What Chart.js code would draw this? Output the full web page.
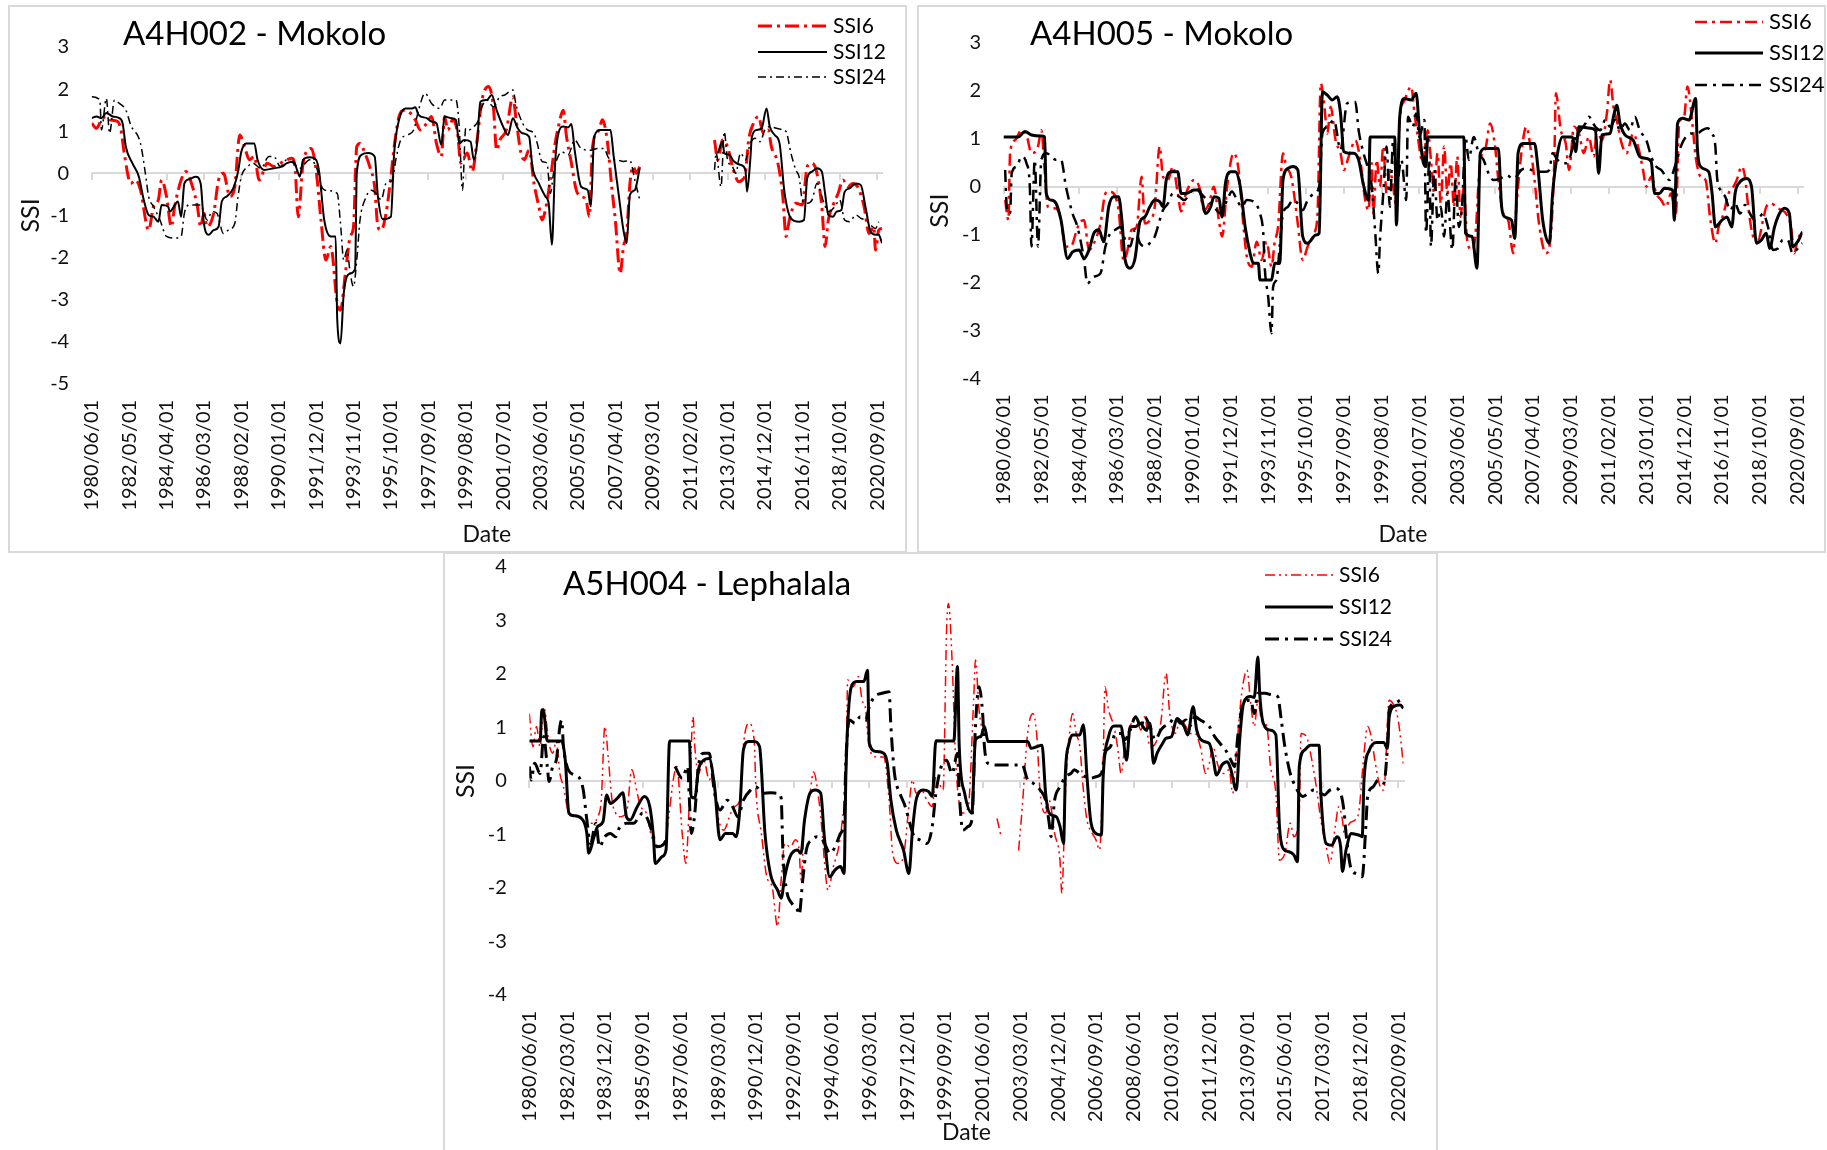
<!DOCTYPE html>
<html lang="pt-BR">
<head>
<meta charset="utf-8">
<title>SSI - Mokolo e Lephalala</title>
<script src="https://cdn.jsdelivr.net/npm/chart.js@4.4.1/dist/chart.umd.min.js"></script>
<style>
    html, body { margin: 0; padding: 0; background: #fff; }
    body { width: 1827px; height: 1150px; position: relative; overflow: hidden; }
    .painel { position: absolute; box-sizing: border-box; border: 2px solid #d9d9d9; background: #fff; }
    .painel canvas { position: absolute; left: 0; top: 0; }
    #painel-a4h002 { left: 8px; top: 5px; width: 899px; height: 548px; }
    #painel-a4h005 { left: 917px; top: 5px; width: 909px; height: 548px; }
    #painel-a5h004 { left: 443px; top: 552px; width: 995px; height: 600px; }
</style>
</head>
<body>
<div class="painel" id="painel-a4h002"><canvas id="chart-a4h002" width="895" height="544"></canvas></div>
<div class="painel" id="painel-a4h005"><canvas id="chart-a4h005" width="905" height="544"></canvas></div>
<div class="painel" id="painel-a5h004"><canvas id="chart-a5h004" width="991" height="596"></canvas></div>

<script>
/**
 * Índice de vazão padronizado (SSI 6, 12 e 24 meses)
 * Estações A4H002 e A4H005 (Mokolo) e A5H004 (Lephalala)
 * Dados mensais: [mês desde 1980/06, valor]; null quebra a linha
 */

const ROTULOS_23M = [
    '1980/06/01', '1982/05/01', '1984/04/01', '1986/03/01', '1988/02/01', '1990/01/01',
    '1991/12/01', '1993/11/01', '1995/10/01', '1997/09/01', '1999/08/01', '2001/07/01',
    '2003/06/01', '2005/05/01', '2007/04/01', '2009/03/01', '2011/02/01', '2013/01/01',
    '2014/12/01', '2016/11/01', '2018/10/01', '2020/09/01'
];

const ROTULOS_21M = [
    '1980/06/01', '1982/03/01', '1983/12/01', '1985/09/01', '1987/06/01', '1989/03/01',
    '1990/12/01', '1992/09/01', '1994/06/01', '1996/03/01', '1997/12/01', '1999/09/01',
    '2001/06/01', '2003/03/01', '2004/12/01', '2006/09/01', '2008/06/01', '2010/03/01',
    '2011/12/01', '2013/09/01', '2015/06/01', '2017/03/01', '2018/12/01', '2020/09/01'
];

const SERIES = ['SSI6', 'SSI12', 'SSI24'];

// A4H002 - Mokolo
const a4h002Ssi6 = [[0,1.19],[3,1.07],[6,1.27],[9,1.35],[11,1.27],[16,1.23],[18,1.03],[20,0.48],[24,-0.24],[27,-0.16],[30,-0.4],[35,-1.35],[38,-0.79],[41,-0.63],[43,-0.16],[46,-0.55],[49,-1.27],[51,-0.79],[55,-0.16],[58,0.04],[62,-0.32],[65,-0.79],[67,-1.27],[69,-0.95],[71,-1.27],[75,-0.95],[78,-0.16],[81,0],[85,-0.55],[88,-0.32],[91,0.91],[94,0.63],[97,0.32],[100,0.4],[103,-0.16],[108,0.24],[112,0.16],[116,0.24],[120,0.32],[123,0.36],[125,0.16],[127,-1.03],[130,0.24],[135,0.59],[138,0.08],[141,-1.11],[144,-2.06],[147,-1.74],[151,-3.09],[153,-3.25],[156,-2.38],[159,-1.5],[161,-1.27],[163,0.63],[165,0.71],[168,0.48],[171,0.16],[174,-0.32],[176,-1.27],[178,-1.35],[181,-0.95],[184,-0.08],[186,0.63],[189,1.35],[192,1.5],[196,1.43],[199,1.27],[202,1.03],[206,1.19],[209,1.35],[212,0.71],[215,0.4],[217,1.35],[219,1.03],[222,1.27],[225,0.95],[227,0.24],[231,0.48],[234,0.04],[237,0.79],[240,1.74],[244,2.06],[247,1.58],[249,0.55],[251,0.79],[255,1.03],[259,1.82],[261,1.27],[264,0.48],[266,0.32],[269,0.55],[272,-0.24],[275,-0.79],[277,-1.11],[279,-0.87],[282,-0.16],[285,0.71],[287,1.11],[290,1.5],[292,0.87],[295,0.24],[298,-0.4],[301,-0.55],[304,-0.63],[306,-1.03],[308,0.63],[312,1.03],[314,1.27],[317,0.79],[320,-0.4],[322,-1.11],[325,-2.38],[327,-1.74],[329,-1.42],[331,-0.24],[333,0.16],[335,0],[337,0.16],[338,null],[383,0.79],[385,0.32],[388,0.79],[391,0.63],[394,0.16],[398,-0.2],[400,-0.16],[402,0],[404,0.79],[407,1.19],[410,1.35],[413,0.95],[416,1.03],[418,0.63],[422,0.24],[425,-0.55],[427,-1.5],[429,-1.11],[433,-0.71],[437,-0.75],[440,0.16],[443,0.24],[446,0],[449,-0.79],[451,-1.74],[453,-1.11],[456,-0.75],[459,-0.48],[462,-0.16],[465,-0.32],[468,-0.24],[471,-0.32],[475,-0.79],[478,-1.43],[481,-1.27],[482,-1.82],[484,-1.35],[486,-1.31]];
const a4h002Ssi12 = [[0,1.31],[3,1.35],[6,1.31],[9,1.43],[13,1.35],[17,1.31],[19,1.19],[21,0.63],[25,0.24],[29,-0.08],[32,-0.63],[35,-0.99],[38,-1.03],[41,-1.15],[43,-0.75],[47,-0.79],[48,-0.91],[53,-0.67],[55,-1.03],[57,-0.24],[60,-0.14],[64,-0.08],[67,-0.24],[69,-1.19],[72,-1.46],[75,-1.35],[78,-1.27],[80,-0.67],[83,-0.55],[87,-0.36],[90,0.04],[92,0.51],[95,0.71],[100,0.71],[102,0.32],[106,0.08],[112,0.12],[117,0.16],[120,0.24],[124,0.28],[127,0],[128,-0.08],[130,0.32],[134,0.38],[138,0.32],[140,0],[143,-1.11],[147,-1.5],[150,-1.5],[151,-3.48],[153,-4.04],[155,-2.85],[159,-2.38],[162,-2.26],[163,0],[166,0.44],[170,0.48],[174,0.4],[176,-0.55],[179,-1.09],[184,-1.03],[186,0.48],[189,1.27],[193,1.54],[197,1.54],[199,1.57],[201,1.39],[206,1.31],[209,1.23],[212,1.19],[215,0.67],[217,1.35],[221,1.31],[224,1.27],[226,0.71],[229,0.79],[233,0.75],[235,0.32],[237,0.71],[239,1.7],[243,1.74],[246,1.86],[249,1.5],[253,1.11],[256,0.91],[259,1.31],[262,1.07],[265,0.95],[269,0.87],[271,0.16],[275,-0.24],[279,-0.55],[281,-0.71],[283,-1.7],[285,0.24],[287,0.95],[290,1.11],[293,1.09],[295,1.17],[297,0.55],[301,-0.32],[305,-0.4],[307,-0.79],[309,0.87],[313,1.03],[319,1.03],[321,0.4],[324,-0.48],[327,-1.35],[329,-1.66],[331,-0.51],[334,-0.4],[337,0.12],[338,null],[385,0.48],[388,0.75],[389,0.48],[392,0.44],[395,0.28],[399,0.2],[402,0.08],[403,-0.44],[405,0.32],[406,0.87],[409,1.03],[412,1.07],[415,1.54],[417,1.11],[420,0.91],[423,0.71],[426,-0.44],[430,-1.07],[435,-1.15],[438,-1.11],[440,-0.12],[443,0.04],[446,0.12],[449,0.04],[451,-0.48],[453,-0.99],[456,-1.03],[458,-0.91],[461,-0.87],[463,-0.44],[466,-0.36],[470,-0.24],[473,-0.28],[476,-0.83],[479,-1.39],[482,-1.46],[484,-1.46],[486,-1.66]];
const a4h002Ssi24 = [[0,1.82],[5,1.74],[6,1.03],[9,1.78],[11,0.95],[14,1.74],[17,1.66],[21,1.5],[24,1.15],[30,0.71],[33,0],[35,-0.55],[38,-0.79],[42,-1.11],[46,-1.5],[51,-1.54],[55,-1.5],[57,-0.95],[60,-0.75],[64,-0.75],[67,-0.75],[71,-1.11],[74,-0.91],[77,-0.95],[81,-1.43],[84,-1.35],[88,-1.19],[90,-0.55],[92,-0.08],[96,0.16],[99,0.24],[104,0.12],[109,0.4],[112,0.4],[116,0.16],[120,0.32],[124,0.24],[128,0.12],[134,0.32],[138,0.16],[142,-0.36],[145,-0.41],[151,-0.48],[153,-1.19],[155,-2.06],[157,-1.82],[159,-2.38],[161,-2.69],[163,-2.06],[165,-1.11],[168,-0.63],[172,-0.4],[175,-0.48],[178,-0.63],[181,-0.24],[185,-0.16],[187,0.32],[190,0.79],[194,0.91],[198,1.03],[201,1.5],[205,1.9],[209,1.66],[214,1.54],[217,1.74],[224,1.74],[226,1.11],[228,-0.4],[230,1.07],[232,1.03],[235,1.11],[238,1.27],[240,1.58],[243,1.74],[247,1.58],[251,1.82],[254,1.86],[259,1.98],[261,1.62],[265,1.19],[268,1.03],[272,0.95],[274,0.71],[277,0.28],[280,0.24],[282,-0.48],[284,0],[286,0.32],[289,0.51],[293,0.44],[297,0.79],[301,0.59],[307,0.55],[311,0.59],[315,0.59],[318,0.36],[323,0.32],[327,0.28],[331,0.3],[334,-0.16],[337,-0.63],[338,null],[383,0.08],[384,0.48],[387,-0.32],[389,0.99],[391,0.32],[394,0.16],[396,0],[399,0.48],[402,0.32],[405,0.71],[408,0.83],[411,0.75],[414,1.03],[417,1.11],[421,1.07],[425,1.03],[427,0.99],[430,0.48],[433,0.08],[435,-0.08],[437,-0.63],[440,-0.71],[443,-0.63],[446,-0.24],[450,-0.67],[453,-0.91],[457,-0.79],[460,-0.63],[463,-1.11],[466,-1.15],[470,-0.99],[473,-1.07],[476,-1.11],[479,-1.23],[482,-1.31],[484,-1.15]];

// A4H005 - Mokolo
const a4h005Ssi6 = [[1,-0.28],[3,-0.7],[4,0.7],[7,0.97],[11,1.18],[14,1.08],[17,0.7],[21,0.84],[23,1.18],[25,0.35],[27,-0.42],[31,-0.45],[34,-0.56],[38,-1.25],[41,-1.25],[44,-0.97],[46,-0.77],[49,-0.7],[52,-1.32],[55,-1.18],[59,-0.77],[62,-0.14],[64,-0.1],[67,-0.14],[70,-0.49],[73,-1.53],[75,-1.39],[78,-0.9],[81,-0.84],[84,0.21],[86,-0.77],[89,-0.7],[92,-0.42],[95,0.84],[97,0.21],[100,0.14],[103,0.42],[106,-0.14],[108,-0.52],[111,-0.14],[116,0.14],[119,0],[122,-0.49],[125,-0.35],[128,0],[131,-0.7],[133,-1.04],[136,0],[140,0.7],[143,0.35],[146,-0.84],[148,-1.46],[151,-1.67],[154,-1.15],[157,-1.53],[160,-1.15],[163,-1.67],[165,-1.15],[167,-0.84],[170,0.7],[172,0.42],[175,0.21],[179,-0.77],[181,-1.39],[182,-1.53],[185,-1.25],[189,-0.97],[191,-0.56],[193,2.16],[195,1.74],[197,1.11],[199,1.67],[202,0.97],[205,0.7],[207,0.35],[210,0.63],[214,0.97],[217,0.56],[220,-0.28],[222,-0.49],[224,0.49],[225,-0.56],[227,0.56],[229,0],[231,0.84],[233,-0.14],[235,0.35],[237,0],[239,-0.42],[241,1.39],[244,1.81],[248,2.09],[250,1.53],[252,1.04],[255,0.49],[258,1.18],[260,0.56],[262,-0.14],[264,0.7],[266,-0.35],[268,0.84],[270,-0.14],[272,0.49],[274,-0.42],[276,0.63],[278,-0.63],[280,0],[282,-1.11],[285,-1.32],[287,-1.04],[290,0.56],[293,0.77],[296,1.32],[299,0.84],[301,0.14],[304,-0.56],[307,-0.7],[310,-1.39],[312,-0.42],[315,0.7],[318,1.25],[321,0.7],[323,0.14],[326,-0.84],[330,-1.39],[333,-0.97],[335,0.49],[336,1.95],[339,1.18],[342,0.9],[344,0.35],[347,1.25],[350,1.11],[353,0.7],[356,1.04],[359,0.63],[361,1.18],[364,0.97],[367,1.53],[369,2.23],[371,1.67],[373,1.39],[376,0.9],[379,0.7],[383,1.11],[386,0.84],[389,0.35],[391,0],[394,0.21],[397,-0.14],[400,-0.28],[403,-0.42],[406,-0.14],[409,-0.56],[411,1.32],[414,1.46],[416,2.09],[419,1.32],[421,0.63],[424,0.21],[427,0.14],[430,-0.7],[433,-1.18],[435,-0.84],[438,-0.56],[441,-0.14],[444,0],[446,0.14],[449,0.42],[451,0.21],[453,-0.42],[456,-1.04],[459,-1.11],[462,-0.7],[464,-0.42],[467,-0.35],[470,-0.42],[473,-0.49],[476,-0.56],[479,-0.84],[481,-1.39],[483,-1.11],[485,-0.97]];
const a4h005Ssi12 = [[0,1.04],[9,1.04],[13,1.15],[17,1.08],[23,1.06],[25,1.04],[26,-0.14],[29,-0.28],[32,-0.35],[35,-0.7],[39,-1.5],[42,-1.36],[46,-1.32],[49,-1.5],[52,-1.32],[55,-0.97],[58,-0.9],[61,-1.15],[64,-0.42],[67,-0.21],[70,-0.21],[72,-0.7],[74,-1.53],[77,-1.7],[80,-1.5],[83,-0.73],[86,-0.63],[89,-0.42],[92,-0.28],[95,-0.31],[97,-0.42],[99,0.14],[102,0.31],[106,0.31],[108,-0.14],[111,-0.14],[116,-0.07],[119,-0.07],[123,-0.56],[126,-0.42],[128,-0.21],[131,-0.24],[133,-0.63],[135,0.07],[138,0.31],[141,0.31],[144,0],[147,-0.84],[150,-1.39],[152,-1.6],[155,-1.6],[156,-1.95],[163,-1.95],[165,-1.6],[168,-1.6],[170,0.14],[173,0.38],[176,0.42],[179,0.35],[182,-1.04],[185,-1.18],[190,-1.01],[192,-0.97],[194,1.98],[197,1.91],[200,1.81],[203,1.88],[205,1.53],[207,0.73],[210,0.7],[213,0.7],[216,0.56],[219,0.03],[222,-0.28],[223,1.04],[238,1.04],[239,-0.8],[241,1.46],[244,1.84],[248,1.81],[251,1.95],[253,1.18],[255,0.56],[257,0.42],[258,1.04],[280,1.04],[281,-0.97],[285,-1.04],[288,-1.7],[290,0.7],[293,0.8],[301,0.8],[303,-0.42],[305,-0.63],[309,-0.7],[311,-1.08],[313,0.7],[316,0.9],[323,0.9],[325,0.42],[328,-0.7],[332,-1.18],[334,-0.14],[337,0.7],[340,1.04],[346,1.04],[348,0.73],[350,1.25],[357,1.22],[360,1.18],[362,0.28],[364,1.08],[369,1.11],[371,1.46],[373,1.7],[375,1.32],[378,1.08],[383,0.97],[387,0.63],[391,0.59],[394,0.52],[396,-0.14],[399,-0.14],[402,-0.03],[407,-0.07],[408,-0.7],[410,1.32],[413,1.43],[417,1.39],[421,1.84],[422,0.84],[424,0.42],[429,0.31],[431,-0.14],[433,-0.84],[437,-0.7],[440,-0.63],[443,-0.84],[445,-0.14],[448,0.1],[452,0.17],[455,0],[458,-1.18],[461,-1.11],[464,-0.97],[466,-1.29],[469,-0.84],[472,-0.56],[475,-0.45],[478,-0.56],[480,-1.25],[483,-1.15],[486,-0.94]];
const a4h005Ssi24 = [[1,0.35],[2,-0.42],[4,-0.56],[5,0.28],[8,0.42],[11,0.63],[14,0.49],[16,0],[17,-1.25],[19,0.56],[21,-1.25],[23,0.56],[26,0.7],[32,0.56],[35,0.56],[38,0],[42,-0.56],[45,-0.84],[49,-1.53],[51,-2.02],[55,-1.88],[59,-1.81],[62,-1.25],[65,-0.97],[68,-0.9],[71,-0.84],[74,-1.11],[77,-1.25],[80,-0.9],[83,-1.18],[86,-1.25],[89,-1.18],[92,-1.04],[95,-0.7],[97,-0.49],[100,-0.35],[103,-0.14],[107,-0.21],[110,-0.28],[114,-0.1],[117,-0.03],[120,-0.14],[124,-0.28],[128,-0.42],[132,-0.56],[136,-0.28],[139,-0.1],[142,-0.28],[145,-0.42],[148,-0.28],[152,-0.31],[156,-0.56],[158,-0.97],[159,-1.74],[161,-2.3],[163,-3.06],[164,-2.09],[166,-1.95],[168,-1.25],[170,-0.56],[173,-0.42],[176,-0.28],[179,-0.35],[182,-0.49],[185,-0.28],[189,-0.14],[192,0],[194,1.11],[197,1.25],[201,1.39],[205,0.77],[209,1.74],[214,1.77],[216,1.18],[219,0.7],[222,0.35],[224,0],[226,-0.9],[228,-1.81],[229,-1.11],[231,-0.14],[233,0.84],[235,-0.42],[237,0.97],[239,0],[242,0.56],[245,-0.28],[246,1.46],[249,1.25],[251,1.53],[253,1.04],[256,1.39],[257,-0.97],[259,0.56],[260,-1.25],[262,0.35],[264,-0.7],[266,-0.42],[268,-1.04],[270,-0.14],[273,-1.32],[275,0.14],[277,-0.84],[279,-0.35],[281,1.04],[283,0.56],[286,1.04],[289,0.7],[292,0.56],[295,0.28],[298,0.14],[302,0.17],[306,0.24],[310,0.17],[312,0.21],[315,0.35],[318,0.38],[321,0.35],[325,0.31],[330,0.31],[332,0.35],[334,0.7],[337,0.56],[340,0.49],[342,0.49],[344,0.56],[348,1.04],[351,1.18],[354,1.32],[356,1.46],[360,1.25],[363,1.18],[366,1.39],[369,1.25],[372,1.39],[375,1.18],[378,1.32],[381,1.18],[384,1.46],[387,1.18],[391,0.97],[394,0.63],[397,0.42],[400,0.35],[403,0.21],[405,0.14],[409,0.49],[412,0.84],[415,1.04],[418,1.11],[422,1.11],[425,1.18],[428,1.22],[431,1.11],[433,0.84],[434,0.21],[436,-0.07],[439,-0.21],[442,-0.49],[445,-0.35],[448,-0.56],[451,-0.38],[454,-0.56],[457,-0.7],[460,-0.63],[462,-0.56],[465,-0.84],[468,-1.32],[471,-1.29],[474,-1.11],[477,-1.11],[480,-1.39],[484,-1.25],[486,-1.18]];

// A5H004 - Lephalala
const a5h004Ssi6 = [[0,1.26],[2,0.64],[4,1.02],[6,0.64],[8,1.39],[11,0.7],[13,0.52],[15,0.74],[17,0.14],[19,-0.11],[22,-0.6],[25,-0.64],[28,-0.67],[32,-0.79],[35,-0.79],[38,-0.67],[40,-0.36],[42,1.02],[44,0.39],[46,-0.36],[48,-0.6],[50,-0.67],[54,-0.6],[57,0.21],[60,-0.23],[62,-0.48],[65,-0.6],[68,-1.04],[71,-1.23],[75,-1.2],[76,-1.04],[82,0.27],[85,-0.98],[87,-1.54],[89,-0.36],[91,1.2],[92,0.64],[94,0.14],[97,0.39],[100,0.02],[102,0.14],[105,-0.67],[108,-0.92],[112,-0.6],[114,-0.48],[117,-0.36],[119,0.67],[122,1.08],[125,0.77],[126,-0.17],[129,-0.98],[132,-1.79],[135,-1.98],[138,-2.72],[140,-1.85],[142,-1.17],[145,-1.23],[148,-1.1],[150,-1.29],[151,-1.85],[153,-0.73],[156,-0.23],[158,0.17],[161,-0.36],[163,-1.04],[164,-1.48],[166,-2.04],[169,-1.6],[172,-1.23],[174,-0.73],[176,0.08],[177,1.89],[180,1.76],[183,1.95],[185,1.51],[187,1.33],[188,0.89],[190,0.52],[193,0.45],[197,0.45],[200,-0.36],[202,-1.35],[205,-1.54],[208,-1.41],[211,-0.48],[213,0.02],[215,-0.23],[218,-0.17],[221,-0.36],[224,-0.48],[226,0.08],[230,-0.17],[232,2.88],[233,3.32],[235,2.26],[237,0.39],[239,-0.42],[241,-0.6],[244,-0.48],[247,1.51],[248,2.26],[250,1.33],[252,0.89],[254,null],[260,-0.7],[262,-1.0],[263,null],[272,-1.3],[274,-0.5],[277,0.89],[280,1.26],[282,0.89],[284,-0.23],[287,-0.6],[289,-0.36],[292,-0.98],[295,-1.48],[296,-2.1],[298,-0.23],[300,0.77],[302,1.26],[304,0.89],[306,0.64],[308,-0.17],[310,-0.73],[313,-0.98],[315,-1.1],[317,-1.29],[319,0.39],[320,1.76],[322,1.33],[325,1.02],[327,0.64],[329,0.14],[331,0.64],[334,1.02],[337,1.2],[340,0.95],[342,1.2],[345,0.64],[348,0.7],[351,1.08],[354,2.01],[356,1.26],[359,0.89],[362,1.14],[365,1.02],[367,0.89],[370,0.89],[373,0.64],[376,0.14],[378,0.33],[380,0.64],[383,0.27],[386,0.14],[389,0.21],[391,-0.23],[393,0.52],[396,1.64],[399,2.07],[401,1.45],[403,1.02],[405,1.51],[407,1.14],[410,1.02],[412,0.27],[415,-0.23],[417,-1.48],[420,-1.35],[423,-0.79],[425,-1.04],[428,-0.6],[429,0.89],[432,0.83],[435,0.39],[438,-0.23],[440,-0.73],[443,-1.23],[445,-1.54],[448,-0.85],[450,-0.48],[452,-0.73],[453,-0.98],[456,-0.79],[459,-0.73],[461,-0.6],[464,0.52],[466,1.02],[468,0.83],[470,0.39],[473,-0.11],[475,-0.17],[478,1.51],[480,1.45],[483,1.14],[486,0.27]];
const a5h004Ssi12 = [[0,0.75],[6,0.75],[7,1.33],[8,1.3],[10,0.75],[18,0.75],[20,0.39],[22,-0.6],[25,-0.65],[29,-0.7],[32,-0.98],[33,-1.35],[36,-1.04],[38,-0.85],[41,-0.76],[43,-0.26],[45,-0.42],[49,-0.32],[52,-0.22],[54,-0.67],[56,-0.73],[60,-0.48],[64,-0.29],[67,-0.48],[69,-1.04],[70,-1.54],[74,-1.41],[76,-1.29],[78,0.75],[89,0.75],[90,-0.29],[92,-0.32],[94,0.21],[97,0.39],[100,0.42],[103,-0.11],[106,-1.1],[109,-0.98],[113,-0.98],[115,-1.04],[117,-0.54],[119,0.58],[122,0.74],[125,0.74],[128,0.64],[131,-0.98],[134,-1.73],[138,-2.04],[140,-2.19],[142,-1.79],[145,-1.41],[149,-1.29],[151,-1.35],[153,-0.73],[156,-0.23],[159,-0.17],[162,-0.23],[164,-1.04],[167,-1.79],[170,-1.66],[173,-1.6],[175,-1.73],[176,0.14],[179,1.76],[182,1.86],[186,1.86],[188,2.07],[189,0.7],[193,0.55],[197,0.52],[199,0.33],[201,-0.36],[204,-0.92],[208,-1.29],[211,-1.73],[213,-0.92],[215,-0.36],[219,-0.17],[222,-0.2],[224,-0.29],[226,0.75],[236,0.75],[238,2.14],[239,0.64],[242,-0.23],[246,-0.6],[248,0.77],[251,0.83],[253,1.02],[255,0.74],[277,0.74],[279,0.61],[282,0.64],[285,0.67],[287,-0.23],[289,-0.6],[293,-0.67],[295,-0.85],[297,-1.17],[298,0.14],[300,0.7],[302,0.86],[306,0.86],[308,1.05],[310,0.08],[312,-0.73],[314,-0.95],[318,-1.01],[319,0.08],[322,0.83],[325,1.03],[329,1.03],[330,0.83],[332,0.39],[334,1.02],[337,1.02],[340,1.08],[341,1.02],[343,0.95],[345,1.08],[347,0.33],[349,0.52],[352,0.7],[354,0.8],[357,0.83],[360,1.17],[364,1.02],[366,0.86],[369,1.39],[371,0.95],[375,0.74],[378,0.7],[380,0.45],[382,0.11],[385,0.3],[388,0.36],[390,0.21],[393,-0.17],[395,0.83],[397,1.45],[401,1.58],[403,1.56],[405,2.32],[406,1.64],[408,1.08],[412,0.95],[415,0.86],[417,-0.85],[419,-1.26],[422,-1.32],[425,-1.38],[427,-1.51],[428,0.27],[431,0.58],[434,0.67],[439,0.67],[440,-0.23],[443,-1.17],[446,-1.2],[449,-1.04],[451,-1.23],[452,-1.69],[454,-1.29],[457,-0.98],[461,-1.01],[463,-1.04],[464,0.02],[467,0.58],[471,0.72],[475,0.72],[477,0.61],[478,1.2],[481,1.4],[484,1.42],[486,1.36]];
const a5h004Ssi24 = [[0,0.27],[1,0.02],[3,0.33],[6,0.14],[8,0.83],[10,0.27],[11,-0.01],[13,0.27],[15,0.39],[17,1.02],[18,1.14],[19,0.64],[21,0.27],[25,0.11],[28,0.05],[30,-0.17],[32,-0.73],[34,-1.17],[37,-0.79],[39,-1.23],[42,-1.04],[45,-0.98],[48,-1.04],[50,-0.88],[54,-0.79],[58,-0.79],[61,-0.67],[63,-0.6],[66,-0.73],[69,-1.04],[71,-1.23],[75,-1.17],[76,-1.1],[78,null],[81,0.27],[85,0.05],[88,0.27],[89,-0.36],[90,-0.98],[92,-0.6],[94,0.27],[97,0.52],[100,0.52],[103,-0.23],[106,-0.54],[110,-0.36],[113,-0.48],[116,-0.67],[119,-0.36],[123,-0.17],[126,-0.11],[130,-0.23],[134,-0.22],[138,-0.23],[140,-0.32],[141,-1.35],[143,-2.04],[146,-2.29],[149,-2.41],[150,-2.5],[152,-1.85],[154,-1.29],[157,-1.1],[160,-1.04],[163,-1.1],[165,-1.23],[167,-1.35],[170,-1.23],[173,-0.98],[175,-0.73],[176,0.39],[178,1.14],[181,1.08],[184,1.2],[187,1.14],[189,1.39],[192,1.58],[196,1.64],[200,1.67],[201,1.02],[203,0.14],[206,-0.23],[209,-0.48],[212,-0.85],[214,-1.04],[217,-1.1],[221,-1.17],[224,-0.85],[226,-0.23],[229,0.27],[232,0.39],[235,0.14],[238,0.52],[239,-0.23],[241,-0.92],[244,-0.85],[246,-0.73],[248,1.02],[250,1.76],[252,1.26],[253,0.64],[255,0.33],[260,0.3],[264,0.3],[267,0.3],[274,0.3],[277,0.02],[280,-0.04],[284,-0.17],[287,-0.36],[289,-0.79],[290,-1.04],[292,-0.36],[295,-0.11],[298,0.08],[301,0.14],[303,0.21],[306,0.14],[309,0.08],[312,0.05],[315,0.08],[318,0.14],[320,0.52],[323,0.64],[326,0.89],[329,0.89],[331,0.77],[334,0.95],[337,1.2],[340,1.02],[342,1.2],[345,1.02],[348,0.77],[351,0.95],[353,1.02],[356,1.08],[359,1.2],[362,1.08],[365,1.14],[367,1.02],[370,1.2],[373,1.14],[376,1.08],[378,1.02],[381,0.83],[384,0.7],[387,0.58],[390,0.39],[392,0.27],[394,0.89],[397,1.45],[401,1.51],[403,1.26],[405,1.64],[409,1.64],[413,1.61],[416,1.58],[418,1.14],[420,0.64],[423,0.14],[426,-0.11],[428,-0.23],[430,-0.29],[433,-0.23],[436,-0.17],[440,-0.23],[442,-0.26],[445,-0.17],[448,-0.14],[451,-0.23],[453,-0.6],[454,-0.98],[457,-1.66],[460,-1.73],[463,-1.79],[465,-0.85],[466,-0.29],[469,-0.11],[472,0.02],[475,-0.04],[477,0.64],[478,1.33],[481,1.45],[484,1.51]];

Chart.defaults.font.family = "Lato, 'Open Sans', sans-serif";
Chart.defaults.color = '#111';

function mesDoRotulo(rotulo) {
    const [ano, mes] = rotulo.split('/').map(Number);
    return (ano - 1980) * 12 + (mes - 6);
}

const MES_FINAL = mesDoRotulo('2020/12/01');

// Título e legenda desenhados por cima da área do gráfico
const pluginRotulos = {
    id: 'rotulos',
    afterDraw(chart, args, opts) {
        const { ctx } = chart;
        ctx.save();
        ctx.fillStyle = '#000';
        ctx.textBaseline = 'alphabetic';
        ctx.font = `${opts.tamanhoTitulo}px Lato`;
        ctx.fillText(opts.titulo, opts.tituloX, opts.tituloY);

        ctx.font = `${opts.tamanhoLegenda}px Lato`;
        ctx.textBaseline = 'middle';
        chart.data.datasets.forEach((ds, i) => {
            const y = opts.legendaY[i];
            ctx.beginPath();
            ctx.strokeStyle = ds.borderColor;
            ctx.lineWidth = ds.borderWidth;
            ctx.setLineDash(ds.borderDash || []);
            ctx.moveTo(opts.legendaX, y);
            ctx.lineTo(opts.legendaX + opts.amostra, y);
            ctx.stroke();
            ctx.setLineDash([]);
            ctx.fillText(ds.label, opts.legendaX + opts.amostra + 6, y);
        });
        ctx.restore();
    }
};

function criarPainel(id, cfg) {
    const rotulos = cfg.rotulos;
    const ticksDatas = scale => {
        scale.ticks = rotulos.map(r => ({ value: mesDoRotulo(r) }));
    };
    const semFolga = s => {
        s.paddingLeft = 0; s.paddingRight = 0; s.paddingTop = 0; s.paddingBottom = 0;
    };

    return new Chart(document.getElementById(id), {
        type: 'line',
        data: {
            datasets: cfg.series.map((s, i) => ({
                label: SERIES[i],
                data: s.dados.map(([x, y]) => ({ x, y })),
                borderColor: s.cor,
                borderWidth: s.largura,
                borderDash: s.traco,
                order: 3 - i,
                pointRadius: 0,
                fill: false,
                spanGaps: false,
                cubicInterpolationMode: 'monotone',
                tension: 0.3
            }))
        },
        options: {
            responsive: false,
            animation: false,
            devicePixelRatio: 1,
            layout: { padding: cfg.padding },
            plugins: {
                legend: { display: false },
                tooltip: { enabled: false },
                rotulos: cfg.rotulosTexto
            },
            scales: {
                x: {
                    type: 'linear',
                    position: 'bottom',
                    min: 0,
                    max: MES_FINAL,
                    afterBuildTicks: ticksDatas,
                    afterFit: s => { s.height = cfg.alturaX; semFolga(s); },
                    grid: { display: false, drawTicks: false },
                    border: { display: false },
                    ticks: {
                        autoSkip: false,
                        minRotation: 90,
                        maxRotation: 90,
                        padding: 16,
                        font: { size: 20 },
                        callback: (v, i) => rotulos[i]
                    },
                    title: {
                        display: true,
                        text: 'Date',
                        font: { size: 23 },
                        padding: { top: 0, bottom: cfg.folgaDate }
                    }
                },
                xZero: {
                    type: 'linear',
                    axis: 'x',
                    position: { y: 0 },
                    min: 0,
                    max: MES_FINAL,
                    afterBuildTicks: ticksDatas,
                    afterFit: s => { s.height = 0; semFolga(s); },
                    ticks: { display: false },
                    grid: { drawOnChartArea: false, drawTicks: true, tickLength: 6, color: '#d9d9d9', lineWidth: 2 },
                    border: { display: true, color: '#d9d9d9', width: 2 }
                },
                y: {
                    min: cfg.yMin,
                    max: cfg.yMax,
                    afterFit: s => { s.width = cfg.larguraY; semFolga(s); },
                    grid: { display: false, drawTicks: false, tickLength: 0 },
                    border: { display: false },
                    ticks: { stepSize: 1, padding: 22.5, crossAlign: 'near', font: { size: 20 } },
                    title: {
                        display: true,
                        text: 'SSI',
                        font: { size: 25 },
                        padding: { top: 6, bottom: 0 }
                    }
                }
            }
        },
        plugins: [pluginRotulos]
    });
}

criarPainel('chart-a4h002', {
    rotulos: ROTULOS_23M,
    yMin: -5, yMax: 3,
    padding: { top: 40, right: 23, bottom: 0, left: 0 },
    larguraY: 81.7, alturaX: 167.2, folgaDate: 3,
    series: [
        { dados: a4h002Ssi6, cor: '#ff0000', largura: 3, traco: [14, 5, 3, 5] },
        { dados: a4h002Ssi12, cor: '#000', largura: 2, traco: [] },
        { dados: a4h002Ssi24, cor: '#000', largura: 1.5, traco: [8, 4, 2, 4] }
    ],
    rotulosTexto: {
        titulo: 'A4H002 - Mokolo', tamanhoTitulo: 33, tituloX: 113, tituloY: 38,
        tamanhoLegenda: 21, legendaX: 748, amostra: 69, legendaY: [19, 45, 70]
    }
});

criarPainel('chart-a4h005', {
    rotulos: ROTULOS_23M,
    yMin: -4, yMax: 3,
    padding: { top: 36, right: 21.5, bottom: 0, left: 0 },
    larguraY: 84.5, alturaX: 172.7, folgaDate: 3,
    series: [
        { dados: a4h005Ssi6, cor: '#ff0000', largura: 2.5, traco: [12, 5, 3, 5] },
        { dados: a4h005Ssi12, cor: '#000', largura: 3, traco: [] },
        { dados: a4h005Ssi24, cor: '#000', largura: 2.5, traco: [12, 6, 3, 6] }
    ],
    rotulosTexto: {
        titulo: 'A4H005 - Mokolo', tamanhoTitulo: 33, tituloX: 111, tituloY: 38,
        tamanhoLegenda: 22, legendaX: 776, amostra: 68, legendaY: [15, 46, 78]
    }
});

criarPainel('chart-a5h004', {
    rotulos: ROTULOS_21M,
    yMin: -4, yMax: 4,
    padding: { top: 13, right: 32.4, bottom: 0, left: 0 },
    larguraY: 84.3, alturaX: 155, folgaDate: 4,
    series: [
        { dados: a5h004Ssi6, cor: '#ff0000', largura: 1.5, traco: [10, 4, 2, 4, 2, 4] },
        { dados: a5h004Ssi12, cor: '#000', largura: 3, traco: [] },
        { dados: a5h004Ssi24, cor: '#000', largura: 3, traco: [14, 6, 3, 6] }
    ],
    rotulosTexto: {
        titulo: 'A5H004 - Lephalala', tamanhoTitulo: 33, tituloX: 118, tituloY: 41,
        tamanhoLegenda: 21, legendaX: 820, amostra: 68, legendaY: [21, 53, 85]
    }
});
</script>
</body>
</html>
